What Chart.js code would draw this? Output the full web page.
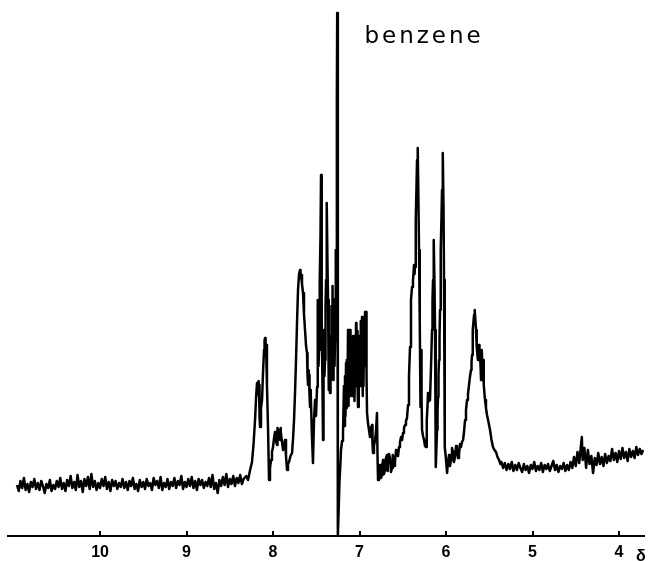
<!DOCTYPE html>
<html>
<head>
<meta charset="utf-8">
<script src="https://cdn.jsdelivr.net/npm/chart.js@4.4.1/dist/chart.umd.min.js"></script>
<style>
  html, body { margin: 0; padding: 0; background: #fff; }
  #wrap { width: 652px; height: 561px; }
</style>
</head>
<body>
<div id="wrap"><canvas id="nmrChart" width="652" height="561"></canvas></div>
<script>
// chemical shift (ppm) / signal height pairs
var downfieldBaseline = [
  [10.96, 51], [10.94, 45], [10.92, 55], [10.90, 48], [10.88, 58], [10.86, 46], [10.84, 52], [10.82, 44],
  [10.80, 54], [10.78, 49], [10.76, 57], [10.74, 47], [10.72, 53], [10.70, 46], [10.68, 55], [10.66, 50],
  [10.64, 43], [10.62, 52], [10.60, 48], [10.58, 56], [10.56, 45], [10.54, 51], [10.52, 47], [10.50, 55],
  [10.48, 49], [10.46, 58], [10.44, 47], [10.42, 53], [10.40, 45], [10.38, 56], [10.36, 50], [10.34, 60],
  [10.32, 48], [10.30, 54], [10.28, 46], [10.26, 61], [10.24, 49], [10.22, 55], [10.20, 44], [10.18, 57],
  [10.16, 50], [10.14, 59], [10.12, 47], [10.10, 62], [10.08, 49], [10.06, 55], [10.04, 46], [10.02, 53],
  [10.00, 48], [9.98, 57], [9.96, 50], [9.94, 59], [9.92, 47], [9.90, 54], [9.88, 45], [9.86, 56],
  [9.84, 50], [9.82, 55], [9.80, 47], [9.78, 53], [9.76, 49], [9.74, 57], [9.72, 48], [9.70, 54],
  [9.68, 46], [9.66, 55], [9.64, 50], [9.62, 58], [9.60, 47], [9.58, 52], [9.56, 45], [9.54, 56],
  [9.52, 49], [9.50, 54], [9.48, 47], [9.46, 57], [9.44, 50], [9.42, 53], [9.40, 46], [9.38, 58],
  [9.36, 51], [9.34, 55], [9.32, 48], [9.30, 59], [9.28, 46], [9.26, 53], [9.24, 49], [9.22, 57],
  [9.20, 47], [9.18, 54], [9.16, 50], [9.14, 58], [9.12, 48], [9.10, 55], [9.08, 51], [9.06, 60],
  [9.04, 47], [9.02, 54], [9.00, 49], [8.98, 57], [8.96, 50], [8.94, 59], [8.92, 48], [8.90, 55],
  [8.88, 46], [8.86, 57], [8.84, 51], [8.82, 56], [8.80, 48], [8.78, 54], [8.76, 50], [8.74, 58],
  [8.72, 49], [8.70, 61], [8.68, 47], [8.66, 53], [8.64, 43], [8.62, 56], [8.60, 50], [8.58, 59],
  [8.56, 51], [8.54, 62], [8.52, 49], [8.50, 57], [8.48, 52], [8.46, 60], [8.44, 50], [8.42, 58],
  [8.40, 53], [8.38, 61], [8.36, 52], [8.34, 57]
];

var aromaticRegion = [
  [8.310, 60], [8.289, 56], [8.265, 66], [8.243, 74], [8.225, 92], [8.208, 116], [8.195, 140],
  [8.185, 153], [8.179, 144], [8.173, 141], [8.167, 155], [8.162, 151], [8.156, 120], [8.150, 109],
  [8.139, 128], [8.127, 136], [8.115, 165], [8.104, 186], [8.098, 196], [8.092, 198], [8.086, 188],
  [8.081, 191], [8.070, 150], [8.058, 109], [8.046, 56], [8.035, 68], [8.023, 76], [8.012, 84],
  [8.000, 89], [7.988, 98], [7.977, 104], [7.966, 95], [7.954, 91], [7.948, 108], [7.942, 106],
  [7.931, 98], [7.919, 96], [7.913, 108], [7.908, 104], [7.896, 94], [7.884, 86], [7.873, 92],
  [7.861, 96], [7.850, 80], [7.838, 66], [7.827, 72], [7.815, 74], [7.798, 80], [7.780, 83],
  [7.768, 98], [7.757, 116], [7.745, 145], [7.734, 176], [7.722, 215], [7.711, 246], [7.699, 262],
  [7.688, 266], [7.682, 258], [7.676, 261], [7.665, 252], [7.653, 243], [7.642, 222], [7.630, 206],
  [7.618, 190], [7.607, 183], [7.601, 160], [7.595, 151], [7.589, 166], [7.584, 161], [7.578, 140],
  [7.572, 129], [7.566, 146], [7.561, 141], [7.550, 100], [7.538, 73], [7.526, 116], [7.514, 136],
  [7.503, 120], [7.491, 149], [7.486, 200], [7.480, 236], [7.474, 170], [7.468, 186], [7.463, 230],
  [7.457, 256], [7.451, 300], [7.445, 361], [7.440, 250], [7.434, 216], [7.428, 150], [7.422, 96],
  [7.416, 170], [7.410, 206], [7.405, 160], [7.399, 176], [7.393, 230], [7.387, 256], [7.382, 290],
  [7.376, 333], [7.370, 270], [7.364, 236], [7.358, 180], [7.353, 146], [7.347, 200], [7.341, 143],
  [7.335, 190], [7.329, 186], [7.324, 230], [7.318, 206], [7.312, 250], [7.306, 156], [7.300, 200],
  [7.295, 236], [7.289, 170], [7.283, 196], [7.277, 240], [7.272, 286], [7.266, 200], [7.262, 436],
  [7.258, 523], [7.252, 523], [7.249, 0], [7.240, 30], [7.231, 56], [7.222, 70], [7.214, 86],
  [7.202, 95], [7.191, 103]
];

var olefinicRegion = [
  [7.180, 150], [7.174, 110], [7.168, 160], [7.162, 120], [7.156, 173], [7.150, 128], [7.145, 176],
  [7.139, 140], [7.133, 206], [7.127, 130], [7.121, 185], [7.116, 150], [7.110, 206], [7.104, 140],
  [7.098, 196], [7.093, 155], [7.087, 180], [7.081, 140], [7.075, 200], [7.069, 150], [7.064, 176],
  [7.058, 135], [7.052, 190], [7.046, 150], [7.040, 213], [7.035, 160], [7.029, 205], [7.023, 150],
  [7.017, 129], [7.012, 170], [7.006, 140], [7.000, 200], [6.994, 160], [6.988, 215], [6.983, 150],
  [6.977, 205], [6.971, 219], [6.965, 140], [6.960, 190], [6.954, 150], [6.948, 210], [6.942, 170],
  [6.936, 224], [6.930, 190], [6.925, 224], [6.919, 160], [6.913, 123], [6.901, 112], [6.890, 106],
  [6.879, 99], [6.867, 108], [6.855, 111], [6.850, 92], [6.844, 83], [6.833, 90], [6.821, 96],
  [6.810, 104], [6.798, 123], [6.792, 80], [6.786, 56], [6.775, 68], [6.763, 71], [6.752, 58],
  [6.740, 61], [6.734, 72], [6.728, 76], [6.717, 62], [6.705, 66], [6.694, 78], [6.682, 81],
  [6.676, 65], [6.671, 71], [6.659, 82], [6.647, 78], [6.636, 64], [6.624, 68], [6.618, 80],
  [6.613, 81], [6.601, 70], [6.590, 74], [6.578, 86], [6.567, 84], [6.555, 80], [6.543, 89],
  [6.532, 94], [6.520, 99], [6.508, 96], [6.497, 103], [6.486, 108], [6.474, 111], [6.463, 115],
  [6.451, 118], [6.439, 131], [6.428, 160], [6.416, 189], [6.405, 236], [6.393, 249], [6.382, 256],
  [6.376, 262], [6.370, 271], [6.364, 262], [6.358, 269], [6.353, 290], [6.347, 316], [6.341, 350],
  [6.335, 376], [6.330, 385], [6.324, 388], [6.318, 330], [6.312, 286], [6.306, 240], [6.301, 213],
  [6.295, 129], [6.289, 186], [6.283, 140], [6.277, 106], [6.266, 100], [6.254, 96], [6.243, 90],
  [6.231, 89], [6.225, 105], [6.220, 116], [6.214, 130], [6.208, 143], [6.197, 135], [6.185, 136],
  [6.173, 170], [6.162, 206], [6.156, 236], [6.150, 256], [6.145, 280], [6.139, 296], [6.133, 250],
  [6.127, 206], [6.121, 130], [6.116, 69], [6.110, 90], [6.104, 106], [6.098, 125], [6.092, 139],
  [6.087, 160], [6.081, 176], [6.075, 200], [6.069, 226], [6.064, 256], [6.058, 286], [6.052, 320],
  [6.046, 346], [6.040, 370], [6.035, 383], [6.029, 330], [6.023, 256], [6.017, 160], [6.012, 89],
  [6.006, 82], [6.000, 76], [5.994, 70], [5.988, 63], [5.977, 74], [5.965, 81], [5.954, 70],
  [5.942, 76], [5.931, 88], [5.919, 84], [5.908, 74], [5.896, 79], [5.884, 90], [5.873, 86],
  [5.861, 78], [5.850, 81], [5.838, 92], [5.827, 89], [5.815, 94], [5.803, 96], [5.792, 104],
  [5.780, 116], [5.769, 126], [5.757, 136], [5.746, 142], [5.734, 151], [5.722, 160], [5.711, 166],
  [5.705, 174], [5.699, 181], [5.694, 195], [5.688, 206], [5.682, 215], [5.676, 221], [5.671, 224],
  [5.665, 226], [5.659, 214], [5.653, 206], [5.648, 196], [5.642, 189], [5.636, 180], [5.630, 176],
  [5.624, 186], [5.618, 191], [5.613, 176], [5.607, 183], [5.601, 170], [5.595, 156], [5.590, 172],
  [5.584, 186], [5.578, 168], [5.572, 176], [5.566, 160], [5.561, 151], [5.555, 142], [5.549, 136],
  [5.538, 128], [5.526, 121], [5.509, 114], [5.491, 106], [5.474, 96], [5.457, 89], [5.440, 86],
  [5.422, 84], [5.405, 79], [5.387, 76], [5.370, 72]
];

var upfieldBaseline = [
  [5.36, 74], [5.34, 68], [5.32, 73], [5.30, 66], [5.28, 72], [5.26, 67], [5.24, 74], [5.22, 65],
  [5.20, 71], [5.18, 66], [5.16, 73], [5.14, 68], [5.12, 64], [5.10, 72], [5.08, 66], [5.06, 70],
  [5.04, 63], [5.02, 71], [5.00, 67], [4.98, 74], [4.96, 65], [4.94, 70], [4.92, 66], [4.90, 73],
  [4.88, 64], [4.86, 71], [4.84, 67], [4.82, 72], [4.80, 65], [4.78, 70], [4.76, 75], [4.74, 66],
  [4.72, 71], [4.70, 64], [4.68, 70], [4.66, 67], [4.64, 73], [4.62, 65], [4.60, 71], [4.58, 66],
  [4.56, 74], [4.54, 68], [4.52, 79], [4.50, 70], [4.48, 84], [4.46, 73], [4.44, 90], [4.43, 99],
  [4.42, 76], [4.40, 88], [4.38, 68], [4.36, 86], [4.34, 72], [4.32, 80], [4.30, 63], [4.28, 78],
  [4.26, 71], [4.24, 83], [4.22, 72], [4.20, 79], [4.18, 70], [4.16, 82], [4.14, 73], [4.12, 80],
  [4.10, 75], [4.08, 87], [4.06, 76], [4.04, 83], [4.02, 74], [4.00, 85], [3.98, 77], [3.96, 88],
  [3.94, 78], [3.92, 84], [3.90, 75], [3.88, 87], [3.86, 79], [3.84, 85], [3.82, 78], [3.80, 89],
  [3.78, 81], [3.76, 87], [3.74, 82], [3.72, 86]
];

var tickLabels = [10, 9, 8, 7, 6, 5, 4];
var benzeneShift = 7.255;
var benzeneLabel = 'benzene';

var spectrum = downfieldBaseline.concat(aromaticRegion, olefinicRegion, upfieldBaseline)
  .map(function(p) { return { x: p[0], y: p[1] }; });

// little upward tick marks, the delta and the benzene note
var decorations = {
  id: 'decorations',
  afterDraw: function(chart) {
    var ctx = chart.ctx;
    var xs = chart.scales.x;
    var area = chart.chartArea;
    ctx.save();
    ctx.strokeStyle = '#000';
    ctx.lineWidth = 2;
    tickLabels.forEach(function(v) {
      var px = Math.round(xs.getPixelForValue(v));
      ctx.beginPath();
      ctx.moveTo(px, area.bottom);
      ctx.lineTo(px, area.bottom - 5);
      ctx.stroke();
    });
    ctx.fillStyle = '#000';
    ctx.textBaseline = 'middle';
    ctx.textAlign = 'left';
    ctx.font = 'bold 16px "Liberation Sans Narrow", "Liberation Sans", sans-serif';
    ctx.fillText('δ', area.right - 8, 557);
    ctx.font = '23px "DejaVu Sans", sans-serif';
    ctx.letterSpacing = '3px';
    ctx.textBaseline = 'alphabetic';
    ctx.fillText(benzeneLabel, xs.getPixelForValue(benzeneShift) + 27, 43);
    ctx.restore();
  }
};

var ctx = document.getElementById('nmrChart').getContext('2d');
var nmrChart = new Chart(ctx, {
  type: 'line',
  data: {
    datasets: [{
      data: spectrum,
      borderColor: '#000',
      borderWidth: 2.5,
      borderJoinStyle: 'round',
      pointRadius: 0,
      fill: false,
      tension: 0
    }]
  },
  options: {
    responsive: false,
    animation: false,
    devicePixelRatio: 1,
    layout: { padding: { left: 8, right: 8, top: 0, bottom: 0 } },
    plugins: { legend: { display: false }, tooltip: { enabled: false } },
    scales: {
      x: {
        type: 'linear',
        reverse: true,
        min: 3.711,
        max: 11.064,
        grid: { display: false, drawTicks: false },
        border: { display: true, color: '#000', width: 2 },
        afterBuildTicks: function(scale) {
          scale.ticks = tickLabels.map(function(v) { return { value: v }; });
        },
        afterFit: function(scale) { scale.height = 25; },
        ticks: {
          color: '#000',
          padding: 7,
          maxRotation: 0,
          autoSkip: false,
          includeBounds: false,
          font: { family: '"Liberation Sans Narrow", "Liberation Sans", sans-serif', size: 16, weight: 'bold' }
        }
      },
      y: {
        display: false,
        min: 0,
        max: 536
      }
    }
  },
  plugins: [decorations]
});
</script>
</body>
</html>
